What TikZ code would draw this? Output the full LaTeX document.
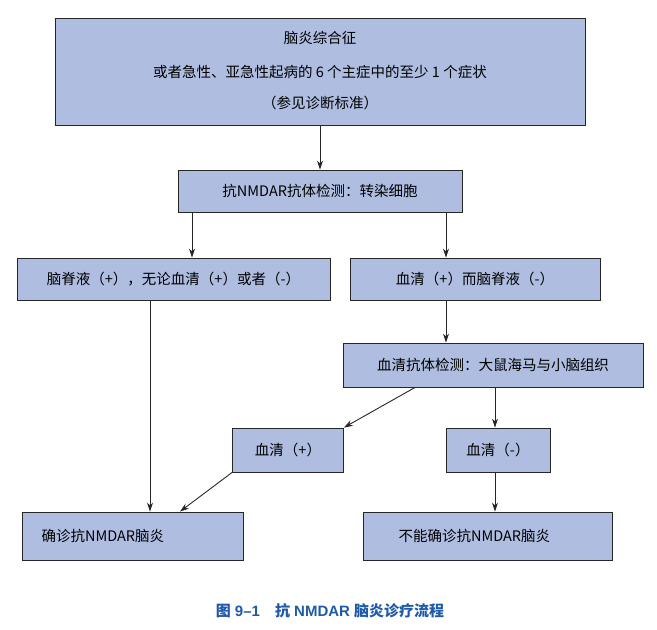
\documentclass[tikz,border=0pt]{standalone}
\usepackage{fontspec}
\setmainfont{Liberation Serif}
\newfontfamily\cjk{Noto Sans CJK SC}
\newfontfamily\capf{Liberation Sans}
\usetikzlibrary{arrows.meta}
\definecolor{boxc}{HTML}{AEBDE0}
\definecolor{capc}{HTML}{1F5AA6}
\begin{document}
\begin{tikzpicture}[x=1pt,y=-1pt,
 bx/.style={draw=black!85,line width=0.9pt,fill=boxc,inner sep=0pt},
 ar/.style={-{Stealth[length=9pt,width=6pt]},line width=0.9pt,black!85},
 font=\cjk\fontsize{14.5}{16}\selectfont]
\useasboundingbox (0,0) rectangle (657,630);
\node[bx,minimum width=530,minimum height=107] (a) at (320,71.5) {};
\node (a1) at (320,38) {脑炎综合征};
\node (a2) at (320,72) {或者急性、亚急性起病的 6 个主症中的至少 1 个症状};
\node (a3) at (320,103) {（参见诊断标准）};
\node[bx,minimum width=284,minimum height=42] (b) at (320,191) {抗NMDAR抗体检测：转染细胞};
\node[bx,minimum width=313,minimum height=42] (c) at (173.5,279) {脑脊液（+），无论血清（+）或者（-）};
\node[bx,minimum width=250,minimum height=42] (d) at (475,279) {血清（+）而脑脊液（-）};
\node[bx,minimum width=300,minimum height=44] (e) at (493,365) {血清抗体检测：大鼠海马与小脑组织};
\node[bx,minimum width=111,minimum height=44] (f) at (288,450) {血清（+）};
\node[bx,minimum width=104,minimum height=44] (g) at (498,450) {血清（-）};
\node[bx,minimum width=221,minimum height=48] (h) at (132.5,536) {};
\node[anchor=west] (ht) at (38,536) {确诊抗NMDAR脑炎};
\node[bx,minimum width=249,minimum height=48] (i) at (487.5,536) {};
\node[anchor=west] (it) at (395,536) {不能确诊抗NMDAR脑炎};
\node[font=\capf\bfseries\fontsize{15}{17}\selectfont,text=capc] (cap) at (330,611) {{\cjk\bfseries 图} 9–1\quad {\cjk\bfseries 抗} NMDAR {\cjk\bfseries 脑炎诊疗流程}};
\draw[ar] (a.south) -- (b.north);
\draw[ar] (b.south -| 192,0) -- (c.north -| 192,0);
\draw[ar] (b.south -| 446,0) -- (d.north -| 446,0);
\draw[ar] (d.south -| 446,0) -- (e.north -| 446,0);
\draw[ar] (e.south -| 415,0) -- (f.north east);
\draw[ar] (e.south -| 495,0) -- (g.north -| 495,0);
\draw[ar] (c.south -| 150,0) -- (h.north -| 150,0);
\draw[ar] (f.south west) -- (h.north -| 180,0);
\draw[ar] (g.south -| 495,0) -- (i.north -| 495,0);
\end{tikzpicture}
\end{document}
